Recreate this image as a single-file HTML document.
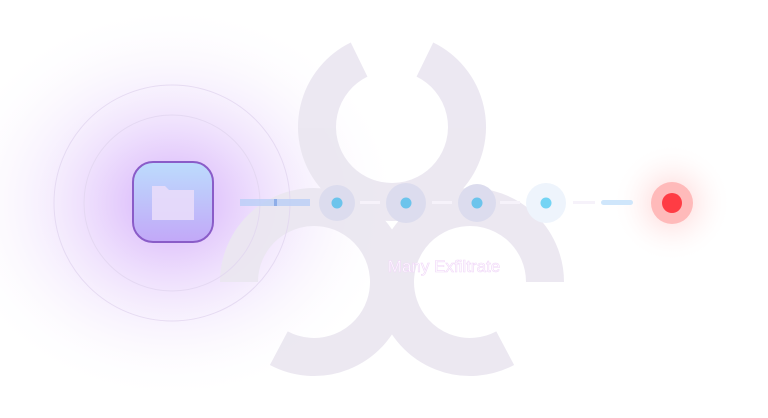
<!DOCTYPE html>
<html><head><meta charset="utf-8"><style>
html,body{margin:0;padding:0;width:768px;height:418px;background:#fff;overflow:hidden;font-family:"Liberation Sans",sans-serif}
</style></head><body>
<svg width="768" height="418" viewBox="0 0 768 418" xmlns="http://www.w3.org/2000/svg">
<defs>
<radialGradient id="glow" cx="0.5" cy="0.5" r="0.5">
<stop offset="0" stop-color="#d4aefb" stop-opacity="1"/>
<stop offset="0.3" stop-color="#e4ccfc" stop-opacity="0.8"/>
<stop offset="0.6" stop-color="#f1e6fc" stop-opacity="0.5"/>
<stop offset="1" stop-color="#ffffff" stop-opacity="0"/>
</radialGradient>
<radialGradient id="rglow" cx="0.5" cy="0.5" r="0.5">
<stop offset="0" stop-color="#ffb0b0" stop-opacity="0.6"/>
<stop offset="1" stop-color="#ffffff" stop-opacity="0"/>
</radialGradient>
<linearGradient id="box" x1="0" y1="0" x2="0" y2="1">
<stop offset="0" stop-color="#bcdcfd"/>
<stop offset="1" stop-color="#c2a8f8"/>
</linearGradient>
</defs>
<ellipse cx="172" cy="203" rx="230" ry="200" fill="url(#glow)"/>
<g fill="none" stroke="#ebe7f1" stroke-width="38" opacity="0.95">
<path d="M 424.9 59.6 A 75 75 0 1 1 359.1 59.6"/>
<path d="M 239 282 A 75 75 0 1 1 278.8 348.2"/>
<path d="M 505.2 348.2 A 75 75 0 1 1 545 282"/>
</g>
<g fill="none" stroke="#e2d6f0" stroke-width="1" opacity="0.8">
<circle cx="172" cy="203" r="118"/>
<circle cx="172" cy="203" r="88"/>
</g>
<circle cx="672" cy="203" r="60" fill="url(#rglow)"/>
<rect x="133" y="162" width="80" height="80" rx="20" fill="url(#box)" stroke="#8a5cc8" stroke-width="2"/>
<path d="M152 186 h13 l4 4 h25 v30 h-42 z" fill="#e8dcfa" opacity="0.9"/>
<rect x="240" y="199" width="70" height="7" fill="#b9cef6" opacity="0.8"/>
<rect x="274" y="199" width="3" height="7" fill="#8faee8"/>
<g fill="#f6f2fa"><rect x="360" y="201" width="20" height="3"/><rect x="432" y="201" width="20" height="3"/><rect x="500" y="201" width="20" height="3"/><rect x="573" y="201" width="22" height="3"/></g>
<circle cx="337" cy="203" r="18" fill="#dcdcee"/><circle cx="337" cy="203" r="5.5" fill="#6cc4ec"/>
<circle cx="406" cy="203" r="20" fill="#dcdcee"/><circle cx="406" cy="203" r="5.5" fill="#6cc4ec"/>
<circle cx="477" cy="203" r="19" fill="#dcdcee"/><circle cx="477" cy="203" r="5.5" fill="#6cc4ec"/>
<circle cx="546" cy="203" r="20" fill="#eef4fc"/><circle cx="546" cy="203" r="5.5" fill="#74d4f4"/>
<rect x="601" y="200" width="32" height="5" rx="2.5" fill="#cfe6fb"/>
<circle cx="672" cy="203" r="21" fill="#ffbaba"/>
<circle cx="672" cy="203" r="10" fill="#ff3c44"/>
<text x="444" y="272" text-anchor="middle" font-size="17" fill="#ffffff" stroke="#f0d6f8" stroke-width="0.6" font-family="Liberation Sans, sans-serif">Many Exfiltrate</text>
</svg>
</body></html>
